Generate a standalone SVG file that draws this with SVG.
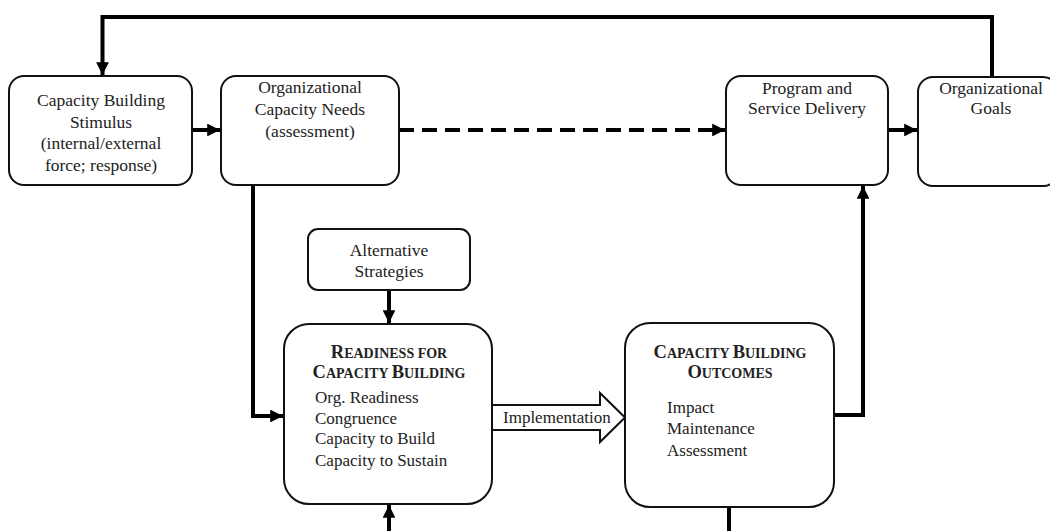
<svg xmlns="http://www.w3.org/2000/svg" width="1050" height="531" viewBox="0 0 1050 531">
<style>
.box{fill:#fff;stroke:#111;stroke-width:2}
.t{font-family:"Liberation Serif","Times New Roman",serif;font-size:17.5px;fill:#222;text-anchor:middle}
.l{font-family:"Liberation Serif","Times New Roman",serif;font-size:17px;fill:#222}
.h{font-family:"Liberation Serif","Times New Roman",serif;font-weight:bold;fill:#222;text-anchor:middle}
.b{font-size:18.5px}
.s{font-size:14px}
.c{fill:none;stroke:#000;stroke-width:4}
</style>
<defs>
<marker id="ah" viewBox="0 0 10 10" refX="10" refY="5" markerWidth="3.2" markerHeight="3.2" markerUnits="strokeWidth" orient="auto">
<path d="M0,0 L10,5 L0,10 z" fill="#000"/>
</marker>
</defs>
<rect width="1050" height="531" fill="#fff"/>
<g id="connectors">
<path class="c" d="M992,77 V17 H102.5 V75" marker-end="url(#ah)"/>
<path class="c" d="M192,130 H220" marker-end="url(#ah)"/>
<path class="c" d="M399,130 H725" stroke-dasharray="15,8" marker-end="url(#ah)"/>
<path class="c" d="M888,130 H917" marker-end="url(#ah)"/>
<path class="c" d="M253,185 V416 H283" marker-end="url(#ah)"/>
<path class="c" d="M389,290 V323" marker-end="url(#ah)"/>
<path class="c" d="M834,415 H863 V186" marker-end="url(#ah)"/>
<path class="c" d="M729,507 V531"/>
<path class="c" d="M389,531 V505" marker-end="url(#ah)"/>
<g id="implementation">
<path d="M492,405 H600 V393 L625,417.5 L600,442 V430 H492 z" fill="#fff" stroke="#111" stroke-width="2"/>
<text class="l" x="503" y="422.5" font-size="15.5">Implementation</text>
</g>
</g>
<g id="stimulus">
<rect class="box" x="9" y="76" width="183" height="109" rx="15"/>
<text class="t" x="101" y="106">Capacity Building</text>
<text class="t" x="101" y="128">Stimulus</text>
<text class="t" x="101" y="149">(internal/external</text>
<text class="t" x="101" y="171">force; response)</text>
</g>
<g id="needs">
<rect class="box" x="221" y="76" width="178" height="109" rx="15"/>
<text class="t" x="310" y="93">Organizational</text>
<text class="t" x="310" y="115">Capacity Needs</text>
<text class="t" x="310" y="137">(assessment)</text>
</g>
<g id="program">
<rect class="box" x="726" y="76" width="162" height="109" rx="15"/>
<text class="t" x="807" y="94">Program and</text>
<text class="t" x="807" y="114">Service Delivery</text>
</g>
<g id="goals">
<rect class="box" x="918" y="77" width="140" height="109" rx="15"/>
<text class="t" x="991" y="94">Organizational</text>
<text class="t" x="991" y="114">Goals</text>
</g>
<g id="alternative">
<rect class="box" x="308" y="229" width="162" height="61" rx="10"/>
<text class="t" x="389" y="256">Alternative</text>
<text class="t" x="389" y="277">Strategies</text>
</g>
<g id="readiness">
<rect class="box" x="284" y="324" width="208" height="180" rx="25"/>
<text class="h" x="389" y="358"><tspan class="b">R</tspan><tspan class="s">EADINESS FOR</tspan></text>
<text class="h" x="389" y="378"><tspan class="b">C</tspan><tspan class="s">APACITY </tspan><tspan class="b">B</tspan><tspan class="s">UILDING</tspan></text>
<text class="l" x="315" y="403">Org. Readiness</text>
<text class="l" x="315" y="424">Congruence</text>
<text class="l" x="315" y="444">Capacity to Build</text>
<text class="l" x="315" y="466">Capacity to Sustain</text>
</g>
<g id="outcomes">
<rect class="box" x="625" y="323" width="209" height="184" rx="25"/>
<text class="h" x="730" y="358"><tspan class="b">C</tspan><tspan class="s">APACITY </tspan><tspan class="b">B</tspan><tspan class="s">UILDING</tspan></text>
<text class="h" x="730" y="378"><tspan class="b">O</tspan><tspan class="s">UTCOMES</tspan></text>
<text class="l" x="667" y="413">Impact</text>
<text class="l" x="667" y="434">Maintenance</text>
<text class="l" x="667" y="456">Assessment</text>
</g>
</svg>
